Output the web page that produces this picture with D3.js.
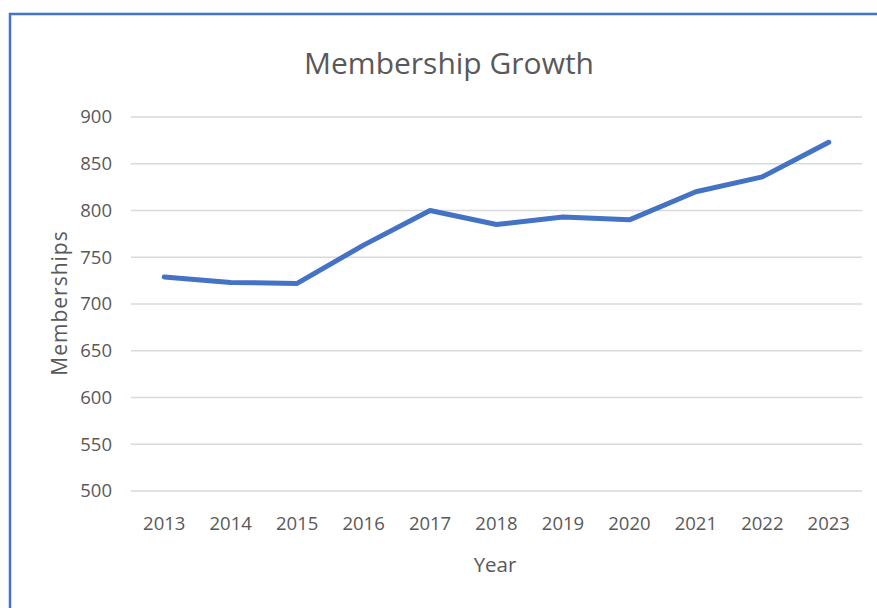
<!DOCTYPE html>
<html>
<head>
<meta charset="utf-8">
<script src="https://cdn.jsdelivr.net/npm/d3@7"></script>
<style>
  body { margin: 0; background: #fff; }
  text { font-family: "Open Sans", sans-serif; fill: #595959; }
</style>
</head>
<body>
<div id="chart"></div>
<script>
// chart data
const years = ["2013", "2014", "2015", "2016", "2017", "2018", "2019", "2020", "2021", "2022", "2023"];
const members = [729, 723, 722, 763, 800, 785, 793, 790, 820, 836, 873];
const yTicks = [500, 550, 600, 650, 700, 750, 800, 850, 900];

const width = 877, height = 608;
const margin = {top: 117, right: 15, bottom: 117, left: 131};

const svg = d3.select("#chart")
  .append("svg")
  .attr("width", width)
  .attr("height", height);

// frame lines (left + top)
svg.append("path")
  .attr("d", `M10,${height} L10,14 L${width},14`)
  .attr("fill", "none")
  .attr("stroke", "#4472C4")
  .attr("stroke-width", 2.5);

let xScale = d3.scaleBand()
  .domain(years)
  .range([margin.left, width - margin.right]);

let yScale = d3.scaleLinear()
  .domain([500, 900])
  .range([height - margin.bottom, margin.top]);

// gridlines
svg.append("g")
  .selectAll("line")
  .data(yTicks)
  .enter()
  .append("line")
  .attr("x1", margin.left)
  .attr("x2", width - margin.right)
  .attr("y1", d => yScale(d))
  .attr("y2", d => yScale(d))
  .attr("stroke", "#d9d9d9")
  .attr("stroke-width", 1.5);

// y axis labels
const yAxis = svg.append("g")
  .attr("transform", `translate(112, 0)`)
  .call(d3.axisLeft(yScale).tickValues(yTicks).tickSize(0).tickPadding(0));
yAxis.select(".domain").remove();
yAxis.selectAll("text").attr("font-size", "18.5px").style("fill", "#595959")
  .style("font-family", "'Open Sans', sans-serif");

// x axis labels
const xAxis = svg.append("g")
  .attr("transform", `translate(0, 517)`)
  .call(d3.axisBottom(xScale).tickSize(0).tickPadding(0));
xAxis.select(".domain").remove();
xAxis.selectAll("text").attr("font-size", "18.5px").style("fill", "#595959")
  .style("font-family", "'Open Sans', sans-serif");

// line
const line = d3.line()
  .x((d, i) => xScale(years[i]) + xScale.bandwidth() / 2)
  .y(d => yScale(d));

svg.append("path")
  .datum(members)
  .attr("d", line)
  .attr("fill", "none")
  .attr("stroke", "#4472C4")
  .attr("stroke-width", 5)
  .attr("stroke-linecap", "round")
  .attr("stroke-linejoin", "round");

// titles
svg.append("text")
  .attr("x", 449)
  .attr("y", 74)
  .attr("text-anchor", "middle")
  .attr("font-size", "30px")
  .text("Membership Growth");

svg.append("text")
  .attr("x", 495)
  .attr("y", 572)
  .attr("text-anchor", "middle")
  .attr("font-size", "20.5px")
  .text("Year");

svg.append("text")
  .attr("transform", "translate(67, 303) rotate(-90)")
  .attr("text-anchor", "middle")
  .attr("font-size", "21px")
  .attr("letter-spacing", "1px")
  .text("Memberships");
</script>
</body>
</html>
